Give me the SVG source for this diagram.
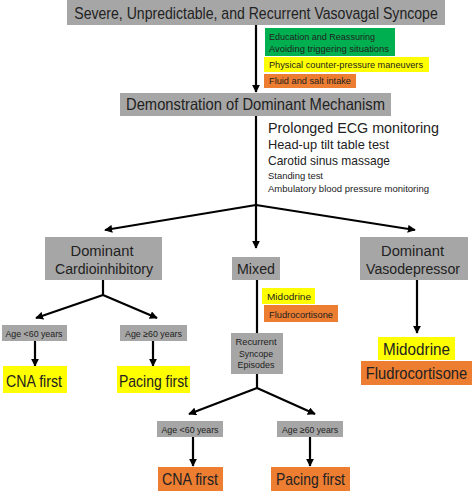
<svg xmlns="http://www.w3.org/2000/svg" width="474" height="491" viewBox="0 0 474 491">
<style>
text{font-family:"Liberation Sans","Open Sans",Arial,sans-serif;fill:#222;}
.g{fill:#a6a6a6;}
.gr{fill:#00b050;}
.y{fill:#ffff00;}
.o{fill:#ed7d31;}
.c{stroke:#000;stroke-width:2.2;fill:none;}
.a{marker-end:url(#ah);}
.m{text-anchor:middle;}
</style>
<defs>
<marker id="ah" viewBox="0 0 10 10" refX="9" refY="5" markerWidth="8" markerHeight="8" markerUnits="userSpaceOnUse" orient="auto">
<path d="M0,0 L10,5 L0,10 z" fill="#000"/>
</marker>
</defs>
<rect width="474" height="491" fill="#fff"/>
<g id="connectors">
<line class="c a" x1="256" y1="25" x2="256" y2="92"/>
<line class="c" x1="256" y1="116" x2="256" y2="205"/>
<line class="c a" x1="256" y1="205" x2="105" y2="230"/>
<line class="c a" x1="256" y1="205" x2="415" y2="230"/>
<line class="c a" x1="256" y1="205" x2="256" y2="248"/>
<line class="c" x1="103" y1="280" x2="103" y2="295"/>
<line class="c a" x1="103" y1="295" x2="36" y2="318"/>
<line class="c a" x1="103" y1="295" x2="157" y2="318"/>
<line class="c a" x1="35" y1="341" x2="35" y2="366"/>
<line class="c a" x1="153" y1="341" x2="153" y2="366"/>
<line class="c" x1="257" y1="280" x2="257" y2="333"/>
<line class="c a" x1="417" y1="280" x2="417" y2="333"/>
<line class="c" x1="257" y1="374" x2="257" y2="388"/>
<line class="c a" x1="257" y1="388" x2="189" y2="414"/>
<line class="c a" x1="257" y1="388" x2="315" y2="414"/>
<line class="c a" x1="193" y1="437" x2="193" y2="466"/>
<line class="c a" x1="310" y1="437" x2="310" y2="466"/>
</g>
<g id="title">
<rect class="g" x="67" y="0" width="378" height="25"/>
<text class="m" transform="translate(256,18.5) scale(0.88,1)" x="0" y="0" font-size="16">Severe, Unpredictable, and Recurrent Vasovagal Syncope</text>
</g>
<g id="education">
<rect class="gr" x="265" y="28" width="130" height="28"/>
<text x="269" y="40" font-size="9.5" textLength="106" lengthAdjust="spacingAndGlyphs">Education and Reassuring</text>
<text x="269" y="52" font-size="9.5" textLength="120" lengthAdjust="spacingAndGlyphs">Avoiding triggering situations</text>
</g>
<g id="physical">
<rect class="y" x="264" y="57" width="165" height="15"/>
<text x="269" y="68" font-size="9.5" textLength="154" lengthAdjust="spacingAndGlyphs">Physical counter-pressure maneuvers</text>
</g>
<g id="fluid">
<rect class="o" x="264" y="74" width="92" height="14"/>
<text x="269" y="84" font-size="9.5" textLength="82" lengthAdjust="spacingAndGlyphs">Fluid and salt intake</text>
</g>
<g id="demonstration">
<rect class="g" x="120" y="93" width="271" height="23"/>
<text class="m" x="255.5" y="110" font-size="16.5" textLength="259" lengthAdjust="spacingAndGlyphs">Demonstration of Dominant Mechanism</text>
</g>
<g id="tests">
<text x="268" y="133" font-size="14.5" textLength="171" lengthAdjust="spacingAndGlyphs">Prolonged ECG monitoring</text>
<text x="268" y="149" font-size="13" textLength="121" lengthAdjust="spacingAndGlyphs">Head-up tilt table test</text>
<text x="268" y="165" font-size="13" textLength="122" lengthAdjust="spacingAndGlyphs">Carotid sinus massage</text>
<text x="268" y="179" font-size="9" textLength="55" lengthAdjust="spacingAndGlyphs">Standing test</text>
<text x="268" y="192" font-size="9" textLength="161" lengthAdjust="spacingAndGlyphs">Ambulatory blood pressure monitoring</text>
</g>
<g id="cardioinhibitory">
<rect class="g" x="45" y="237" width="117" height="43"/>
<text class="m" x="102" y="256" font-size="15.5" textLength="63" lengthAdjust="spacingAndGlyphs">Dominant</text>
<text class="m" x="104" y="274" font-size="15.5" textLength="98" lengthAdjust="spacingAndGlyphs">Cardioinhibitory</text>
</g>
<g id="mixed">
<rect class="g" x="232" y="257" width="48" height="23"/>
<text class="m" x="256" y="274" font-size="15.5" textLength="38" lengthAdjust="spacingAndGlyphs">Mixed</text>
</g>
<g id="vasodepressor">
<rect class="g" x="360" y="237" width="108" height="43"/>
<text class="m" x="412.5" y="256" font-size="15.5" textLength="63" lengthAdjust="spacingAndGlyphs">Dominant</text>
<text class="m" x="413" y="274" font-size="15.5" textLength="94" lengthAdjust="spacingAndGlyphs">Vasodepressor</text>
</g>
<g id="age-lt60-ci">
<rect class="g" x="2" y="325" width="65" height="16"/>
<text class="m" x="34" y="337" font-size="9" textLength="57" lengthAdjust="spacingAndGlyphs">Age &lt;60 years</text>
</g>
<g id="age-ge60-ci">
<rect class="g" x="120" y="325" width="67" height="16"/>
<text class="m" x="153.5" y="337" font-size="9" textLength="57" lengthAdjust="spacingAndGlyphs">Age ≥60 years</text>
</g>
<g id="cna-first-ci">
<rect class="y" x="3" y="366" width="64" height="27"/>
<text class="m" x="34" y="387" font-size="17" textLength="56" lengthAdjust="spacingAndGlyphs">CNA first</text>
</g>
<g id="pacing-first-ci">
<rect class="y" x="117" y="366" width="73" height="27"/>
<text class="m" x="153.5" y="387" font-size="17" textLength="69" lengthAdjust="spacingAndGlyphs">Pacing first</text>
</g>
<g id="midodrine-mixed">
<rect class="y" x="262" y="288" width="53" height="16"/>
<text x="267" y="300" font-size="9.5" textLength="44" lengthAdjust="spacingAndGlyphs">Midodrine</text>
</g>
<g id="fludro-mixed">
<rect class="o" x="264" y="305" width="74" height="17"/>
<text x="269" y="317.5" font-size="9.5" textLength="64" lengthAdjust="spacingAndGlyphs">Fludrocortisone</text>
</g>
<g id="recurrent">
<rect class="g" x="231" y="333" width="52" height="41"/>
<text class="m" x="256" y="345" font-size="9" fill="#3a3a3a" textLength="41" lengthAdjust="spacingAndGlyphs">Recurrent</text>
<text class="m" x="256" y="356.5" font-size="9" textLength="34" lengthAdjust="spacingAndGlyphs">Syncope</text>
<text class="m" x="256" y="368" font-size="9" textLength="37" lengthAdjust="spacingAndGlyphs">Episodes</text>
</g>
<g id="midodrine-vd">
<rect class="y" x="378" y="337" width="77" height="23"/>
<text class="m" x="416.5" y="355" font-size="17" textLength="67" lengthAdjust="spacingAndGlyphs">Midodrine</text>
</g>
<g id="fludro-vd">
<rect class="o" x="361" y="361" width="111" height="24"/>
<text class="m" transform="translate(416.5,379) scale(0.92,1)" x="0" y="0" font-size="16">Fludrocortisone</text>
</g>
<g id="age-lt60-mx">
<rect class="g" x="157" y="421" width="66" height="16"/>
<text class="m" x="190" y="433" font-size="9" textLength="57" lengthAdjust="spacingAndGlyphs">Age &lt;60 years</text>
</g>
<g id="age-ge60-mx">
<rect class="g" x="277" y="421" width="66" height="16"/>
<text class="m" x="310" y="433" font-size="9" textLength="56" lengthAdjust="spacingAndGlyphs">Age ≥60 years</text>
</g>
<g id="cna-first-mx">
<rect class="o" x="158" y="467" width="65" height="24"/>
<text class="m" x="190" y="484.5" font-size="17" textLength="56" lengthAdjust="spacingAndGlyphs">CNA first</text>
</g>
<g id="pacing-first-mx">
<rect class="o" x="271" y="467" width="79" height="24"/>
<text class="m" x="310.5" y="484.5" font-size="17" textLength="69" lengthAdjust="spacingAndGlyphs">Pacing first</text>
</g>
</svg>
